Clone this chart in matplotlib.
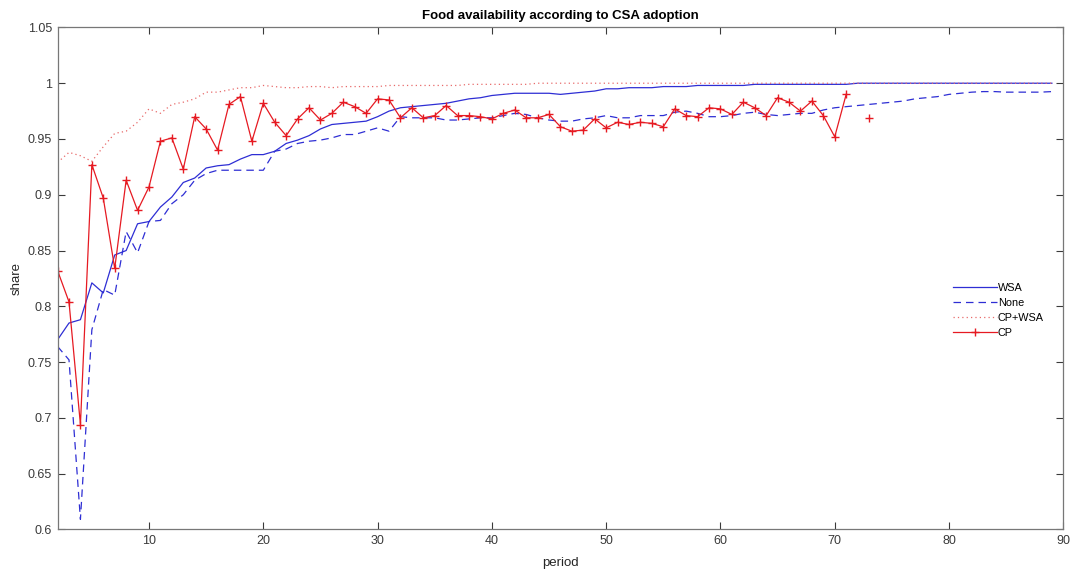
import numpy as np
import matplotlib
matplotlib.use("Agg")
import matplotlib.pyplot as plt

plt.rcParams['font.family'] = ['Liberation Sans', 'DejaVu Sans']

period = list(range(2, 90))

wsa = [0.770, 0.785, 0.788, 0.821, 0.812, 0.846, 0.850, 0.874, 0.876, 0.889,
       0.898, 0.911, 0.915, 0.924, 0.926, 0.927, 0.932, 0.936, 0.936, 0.939,
       0.946, 0.949, 0.953, 0.959, 0.963, 0.964, 0.965, 0.966, 0.970, 0.975,
       0.978, 0.979, 0.980, 0.981, 0.982, 0.984, 0.986, 0.987, 0.989, 0.990,
       0.991, 0.991, 0.991, 0.991, 0.990, 0.991, 0.992, 0.993, 0.995, 0.995,
       0.996, 0.996, 0.996, 0.997, 0.997, 0.997, 0.998, 0.998, 0.998, 0.998,
       0.998, 0.999, 0.999, 0.999, 0.999, 0.999, 0.999, 0.999, 0.999, 0.999,
       1.000, 1.000, 1.000, 1.000, 1.000, 1.000, 1.000, 1.000, 1.000, 1.000,
       1.000, 1.000, 1.000, 1.000, 1.000, 1.000, 1.000, 1.000]

none = [0.764, 0.752, 0.609, 0.779, 0.815, 0.810, 0.867, 0.848, 0.876, 0.877,
        0.892, 0.900, 0.913, 0.919, 0.922, 0.922, 0.922, 0.922, 0.922, 0.939,
        0.941, 0.946, 0.948, 0.949, 0.951, 0.954, 0.954, 0.957, 0.960, 0.957,
        0.970, 0.969, 0.969, 0.969, 0.967, 0.967, 0.968, 0.969, 0.969, 0.971,
        0.973, 0.972, 0.969, 0.967, 0.966, 0.966, 0.968, 0.969, 0.971, 0.969,
        0.969, 0.971, 0.971, 0.971, 0.974, 0.975, 0.973, 0.970, 0.970, 0.971,
        0.973, 0.974, 0.972, 0.971, 0.972, 0.973, 0.973, 0.976, 0.978, 0.979,
        0.980, 0.981, 0.982, 0.983, 0.984, 0.986, 0.987, 0.988, 0.990, 0.991,
        0.992, 0.9925, 0.9925, 0.992, 0.992, 0.992, 0.992, 0.9925]

cp_wsa = [0.929, 0.938, 0.935, 0.930, 0.943, 0.955, 0.957, 0.965, 0.977, 0.973,
          0.981, 0.983, 0.986, 0.992, 0.992, 0.994, 0.996, 0.996, 0.998, 0.997,
          0.996, 0.996, 0.997, 0.997, 0.996, 0.997, 0.997, 0.997, 0.997, 0.998,
          0.998, 0.998, 0.998, 0.998, 0.998, 0.998, 0.999, 0.999, 0.999, 0.999,
          0.999, 0.999, 1.000, 1.000, 1.000, 1.000, 1.000, 1.000, 1.000, 1.000,
          1.000, 1.000, 1.000, 1.000, 1.000, 1.000, 1.000, 1.000, 1.000, 1.000,
          1.000, 1.000, 1.000, 1.000, 1.000, 1.000, 1.000, 1.000, 1.000, 1.000,
          1.000, 1.000, 1.000, 1.000, 1.000, 1.000, 1.000, 1.000, 1.000, 1.000,
          1.000, 1.000, 1.000, 1.000, 1.000, 1.000, 1.000, 1.000]

cp = [0.832, 0.804, 0.694, 0.927, 0.897, 0.834, 0.913, 0.886, 0.907, 0.948,
      0.951, 0.923, 0.970, 0.959, 0.940, 0.981, 0.988, 0.948, 0.982, 0.965,
      0.953, 0.968, 0.978, 0.967, 0.973, 0.983, 0.979, 0.973, 0.986, 0.985,
      0.969, 0.978, 0.969, 0.971, 0.980, 0.971, 0.971, 0.970, 0.968, 0.973,
      0.976, 0.969, 0.969, 0.972, 0.961, 0.957, 0.958, 0.968, 0.960, 0.965,
      0.963, 0.965, 0.964, 0.961, 0.977, 0.971, 0.970, 0.978, 0.977, 0.972,
      0.983, 0.978, 0.971, 0.987, 0.983, 0.975, 0.984, 0.971, 0.952, 0.990,
      np.nan, 0.969] + [np.nan] * 16

blue = '#2e2ed4'
red = '#e61a22'
dot_red = '#e86a6a'

fig = plt.figure(figsize=(10.72, 5.72), dpi=100)
ax = fig.add_axes([0.0537, 0.0745, 0.9382, 0.8775])

ax.plot(period, wsa, color=blue, lw=0.9, ls='-', label='WSA')
ax.plot(period, none, color=blue, lw=0.9, ls=(0, (6, 4)), label='None')
ax.plot(period, cp_wsa, color=dot_red, lw=0.9, ls=(0, (1, 2.5)), label='CP+WSA')
ax.plot(period, cp, color=red, lw=0.9, ls='-', marker='+', ms=6, mew=1.0, label='CP')

ax.set_xlim(2, 90)
ax.set_ylim(0.6, 1.05)
xt = [10, 20, 30, 40, 50, 60, 70, 80, 90]
ax.set_xticks(xt)
ax.set_xticklabels([str(v) for v in xt])
yt = [0.6, 0.65, 0.7, 0.75, 0.8, 0.85, 0.9, 0.95, 1.0, 1.05]
ax.set_yticks(yt)
ax.set_yticklabels(['0.6', '0.65', '0.7', '0.75', '0.8', '0.85', '0.9', '0.95', '1', '1.05'])

ax.tick_params(direction='in', top=True, right=True, length=5, width=0.8,
               labelsize=9, colors='#3a3a3a', pad=4)
for s in ax.spines.values():
    s.set_color('#777777')
    s.set_linewidth(0.9)

ax.set_xlabel('period', fontsize=9.5, color='#262626', labelpad=7)
ax.set_ylabel('share', fontsize=9.5, color='#262626', labelpad=4)
ax.set_title('Food availability according to CSA adoption', fontsize=9.5,
             fontweight='bold', pad=6)

leg = ax.legend(loc='center left', bbox_to_anchor=(0.881, 0.436), frameon=False,
                fontsize=7.8, handlelength=4.0, handletextpad=0.1, labelspacing=0.45)

fig.savefig('out.png', dpi=100)
